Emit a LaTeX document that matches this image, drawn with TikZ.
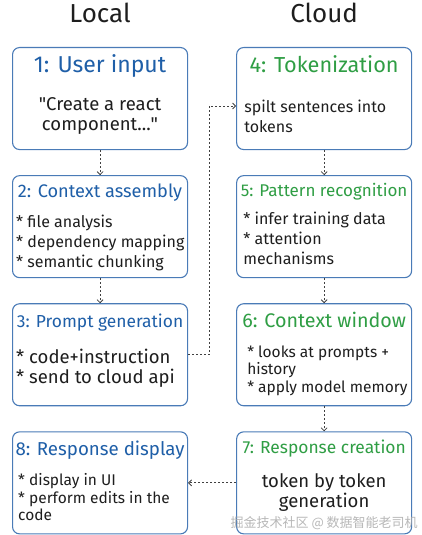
\documentclass[tikz,border=0pt]{standalone}
\usepackage{fontspec}
\setmainfont{Fira Sans}
\newfontfamily\cjk{Noto Sans CJK SC}
\usetikzlibrary{positioning,arrows.meta}
\definecolor{edge}{HTML}{4A7BB7}
\definecolor{localblue}{HTML}{1F5FA8}
\definecolor{cloudgreen}{HTML}{2F9E44}
\definecolor{ink}{HTML}{1E1E1E}
\newcommand{\boxwidth}{175pt}
\newcommand{\boxheight}{102pt}
\newcommand{\boxgap}{25pt}
\newcommand{\colgap}{48pt}
\newcommand{\titlesize}[1]{\fontsize{#1}{#1}\selectfont}
\tikzstyle{heading}=[text=ink,inner sep=0,font=\fontsize{26}{30}\selectfont]
\tikzstyle{stage}=[fill=white,draw=edge,line width=1.1pt,shape=rectangle,rounded corners=7pt,
                   minimum width=\boxwidth,minimum height=\boxheight,inner sep=0]
\tikzstyle{localtitle}=[text=localblue,inner sep=0]
\tikzstyle{cloudtitle}=[text=cloudgreen,inner sep=0]
\tikzstyle{bodytxt}=[text=ink,align=left,inner sep=0,font=\fontsize{16}{20}\selectfont]
\tikzstyle{bigtxt}=[text=ink,align=left,inner sep=0,font=\fontsize{18.5}{20}\selectfont]
\tikzstyle{smalltxt}=[text=ink,align=left,inner sep=0,font=\fontsize{15.5}{17.5}\selectfont]
\tikzstyle{flow}=[-{Straight Barb[length=3pt,width=6pt]},draw=ink!85,line width=0.8pt,
                  dash pattern=on 2pt off 2pt]

\begin{document}
\begin{tikzpicture}[x=1pt,y=1pt]
\useasboundingbox (0,0) rectangle (421,-535);

% local side
\node [stage, anchor=north west] (b1) at (12,-47) {};
\node [stage, below=\boxgap of b1] (b2) {};
\node [stage, below=\boxgap of b2] (b3) {};
\node [stage, below=\boxgap of b3] (b8) {};

% cloud side
\node [stage, right=\colgap of b1] (b4) {};
\node [stage, right=\colgap of b2] (b5) {};
\node [stage, right=\colgap of b3] (b6) {};
\node [stage, right=\colgap of b8] (b7) {};

\node [heading, above=24pt of b1] (local) {Local};
\node [heading, above=24pt of b4] (cloud) {Cloud};

\node [localtitle, font=\titlesize{23}, below=7pt of b1.north] (t1) {1: User input};
\node [localtitle, font=\titlesize{18.2}, below=9pt of b2.north] (t2) {2: Context assembly};
\node [localtitle, font=\titlesize{17.4}, below=11pt of b3.north] (t3) {3: Prompt generation};
\node [localtitle, font=\titlesize{18.7}, below=9pt of b8.north] (t8) {8: Response display};
\node [cloudtitle, font=\titlesize{21.7}, below=8pt of b4.north] (t4) {4: Tokenization};
\node [cloudtitle, font=\titlesize{17}, below=8pt of b5.north] (t5) {5: Pattern recognition};
\node [cloudtitle, font=\titlesize{19.7}, below=9pt of b6.north] (t6) {6: Context window};
\node [cloudtitle, font=\titlesize{17.4}, below=8pt of b7.north] (t7) {7: Response creation};

\node [bigtxt, align=center, below=50pt of b1.north] (bd1)
      {\textquotedbl Create a react\\ component...\textquotedbl};
\node [bodytxt, below right=53pt and 8pt of b4.north west] (bd4) {spilt sentences into\\tokens};
\node [bodytxt, below right=40pt and 4pt of b2.north west] (bd2)
      {* file analysis\\* dependency mapping\\* semantic chunking};
\node [bodytxt, below right=37pt and 7pt of b5.north west] (bd5)
      {* infer training data\\* attention\\mechanisms};
\node [bigtxt, below right=46pt and 4pt of b3.north west] (bd3)
      {* code+instruction\\* send to cloud api};
\node [smalltxt, below right=42pt and 11pt of b6.north west] (bd6)
      {* looks at prompts +\\history\\* apply model memory};
\node [smalltxt, below right=42pt and 6pt of b8.north west] (bd8)
      {* display in UI\\* perform edits in the\\code};
\node [bigtxt, align=center, below=42pt of b7.north] (bd7) {token by token\\generation};

\node [text=gray!70, opacity=0.8, inner sep=0, font=\cjk\fontsize{13}{15}\selectfont,
       above=4pt of b7.south] (watermark) {掘金技术社区 @ 数据智能老司机};

\coordinate [below=6pt of bd4.north west] (in4);

\draw [flow] (b1) -- (b2);
\draw [flow] (b2) -- (b3);
\draw [flow] (b4) -- (b5);
\draw [flow] (b5) -- (b6);
\draw [flow] (b6) -- (b7);
\draw [flow] (b3.east) -- ++(21,0) |- (b4.west |- in4);
\draw [flow] (b7.west) -- (b8.east);
\end{tikzpicture}
\end{document}
